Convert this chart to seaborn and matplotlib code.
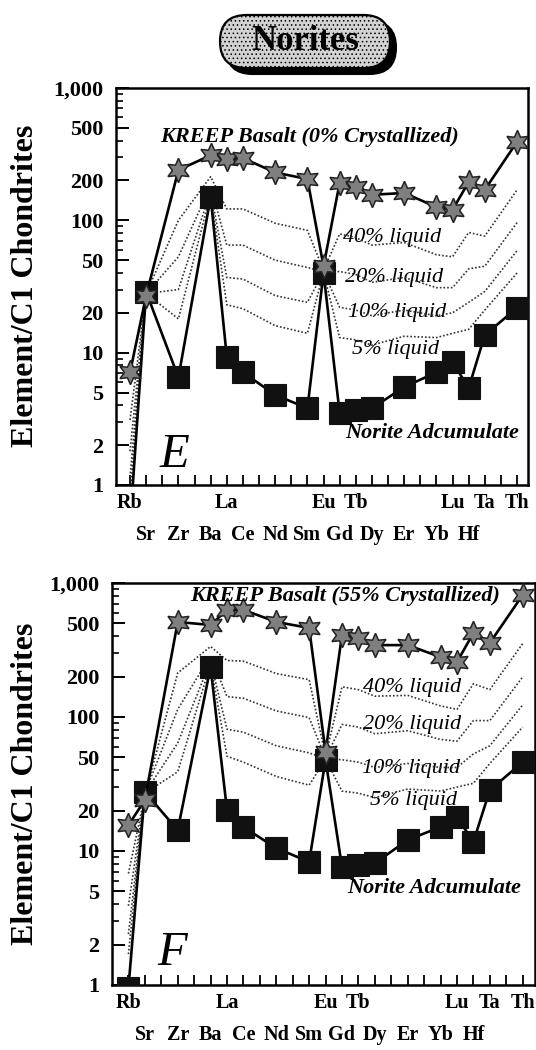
import numpy as np
import pandas as pd
import matplotlib
matplotlib.use("Agg")
import matplotlib.pyplot as plt
import matplotlib.transforms as mtransforms
from matplotlib.patches import FancyBboxPatch
from matplotlib.ticker import NullFormatter, LogLocator
import seaborn as sns

# ---------------- data ----------------
elements = ['Rb', 'Sr', 'Zr', 'Ba', 'La', 'Ce', 'Nd', 'Sm', 'Eu',
            'Gd', 'Tb', 'Dy', 'Er', 'Yb', 'Lu', 'Hf', 'Ta', 'Th']
element_pos = [1, 2, 4, 6, 7, 8, 10, 12, 13, 14, 15, 16, 18, 20, 21, 22, 23, 25]
top_row = ['Rb', 'La', 'Eu', 'Tb', 'Lu', 'Ta', 'Th']

# Panel E : KREEP basalt 0 % crystallized
kreep_0 = [7.1, 27, 240, 310, 290, 295, 230, 205, 45, 192, 179, 156, 161, 126, 120, 195, 170, 392]
cumulate_e = [0.5, 28.8, 6.5, 150, 9.3, 7.1, 4.8, 3.8, 40, 3.5, 3.7, 3.8, 5.5, 7.1, 8.5, 5.4, 13.6, 21.8]
liq40_e = [3.1, 28, 100, 214, 122, 122, 95, 84, 42, 79, 74, 65, 68, 55, 53, 81, 76, 170]
liq20_e = [1.8, 28, 53, 182, 65, 65, 50, 44, 41, 41, 39, 34, 37, 31, 31, 43, 45, 96]
liq10_e = [1.15, 28, 30, 166, 37, 36, 27, 24, 40.5, 22, 21, 19, 21, 19, 20, 24, 29, 59]
liq5_e = [0.83, 28, 18, 158, 23, 21.5, 16, 14, 40.3, 13, 12.5, 11.4, 13.3, 13, 14, 15, 21, 40]

# Panel F : KREEP basalt 55 % crystallized
kreep_55 = [15.6, 24, 512, 486, 630, 630, 512, 462, 55, 409, 388, 344, 344, 280, 257, 424, 357, 813]
cumulate_f = [0.95, 27.6, 14.3, 236, 20.2, 15.1, 10.5, 8.3, 48, 7.6, 7.9, 8.1, 12.1, 15.1, 17.9, 11.7, 28.5, 46]
liq40_f = [6.8, 26, 213, 336, 264, 261, 211, 190, 51, 168, 160, 143, 145, 121, 114, 177, 160, 353]
liq20_f = [3.9, 27, 114, 286, 142, 138, 111, 99, 49.4, 88, 84, 75, 79, 68, 66, 94, 94, 199]
liq10_f = [2.4, 27, 64, 261, 81, 77, 61, 54, 48.7, 48, 46, 42, 45, 42, 42, 53, 61, 123]
liq5_f = [1.7, 27, 39, 249, 51, 46, 36, 31, 48.4, 28, 27, 25, 29, 28, 30, 32, 45, 84]

ytick_vals = [1, 2, 5, 10, 20, 50, 100, 200, 500, 1000]
ytick_labels = ['1', '2', '5', '10', '20', '50', '100', '200', '500', '1,000']
liquid_labels = ['40% liquid', '20% liquid', '10% liquid', '5% liquid']

# ---------------- style ----------------
sns.set_style("ticks")
plt.rcParams['font.family'] = ['Liberation Serif', 'DejaVu Serif']
plt.rcParams['hatch.color'] = '#7a7a7a'
plt.rcParams['hatch.linewidth'] = 0.6
for key in ('text.color', 'axes.labelcolor', 'xtick.color', 'ytick.color', 'axes.edgecolor'):
    plt.rcParams[key] = 'black'

W, H = 536, 1050
fig = plt.figure(figsize=(W / 100, H / 100), dpi=100)


def px_axes(l, t, r, b):
    return fig.add_axes([l / W, 1 - b / H, (r - l) / W, (b - t) / H])


def draw_panel(ax, xlim, kreep, cum, liquids, kreep_label, letter, ann):
    ax.set_yscale('log')
    for vals in liquids:
        sns.lineplot(x=element_pos, y=vals, ax=ax, color='#333333', lw=1.2,
                     linestyle=(0, (1, 1.2)), sort=False, zorder=2)
    sns.lineplot(x=element_pos, y=cum, ax=ax, color='black', lw=1.9,
                 marker='s', markersize=16, markerfacecolor='#111111',
                 markeredgecolor='#111111', markeredgewidth=0.8,
                 sort=False, zorder=3)
    sns.lineplot(x=element_pos, y=kreep, ax=ax, color='black', lw=1.9,
                 marker=(6, 1, 0), markersize=17.5, markerfacecolor='#7f7f7f',
                 markeredgecolor='#222222', markeredgewidth=1.1,
                 sort=False, zorder=4)
    ax.set_xlim(*xlim)
    ax.set_ylim(1, 1000)
    ax.set_xlabel('')
    ax.set_ylabel('')

    # y axis
    ax.set_yticks(ytick_vals, labels=ytick_labels)
    ax.yaxis.set_minor_locator(LogLocator(base=10, subs=(3, 4, 6, 7, 8, 9), numticks=30))
    ax.yaxis.set_minor_formatter(NullFormatter())
    ax.tick_params(axis='y', which='major', direction='in', length=9, width=1.4,
                   labelsize=16, pad=9, right=False)
    ax.tick_params(axis='y', which='minor', direction='in', length=5, width=1.2, right=False)

    # x axis: top-row labels on major ticks, bottom-row labels on minor ticks
    labelled_top = [p for p, e in zip(element_pos, elements) if e in top_row]
    unlabelled = [p for p in range(1, 26) if p not in element_pos]
    major_pos = sorted(labelled_top + unlabelled)
    major_lab = [elements[element_pos.index(p)] if p in labelled_top else '' for p in major_pos]
    bottom_pos = [p for p, e in zip(element_pos, elements) if e not in top_row]
    bottom_lab = [e for e in elements if e not in top_row]
    ax.set_xticks(major_pos, labels=major_lab)
    ax.set_xticks(bottom_pos, labels=bottom_lab, minor=True)
    ax.tick_params(axis='x', which='both', direction='in', length=7, width=1.3,
                   labelsize=14.5, top=False)
    ax.tick_params(axis='x', which='major', pad=6)
    ax.tick_params(axis='x', which='minor', pad=29)
    for lab in ax.get_xticklabels(which='both') + ax.get_yticklabels():
        lab.set_fontweight('bold')

    for sp in ax.spines.values():
        sp.set_linewidth(1.8)
        sp.set_color('black')

    # annotations
    (kx, ky), liq_pos, (nx, ny), (lx, ly) = ann
    ax.text(kx, ky, kreep_label, ha='center', va='center', fontsize=16,
            fontweight='bold', fontstyle='italic', zorder=5)
    for (tx, ty), txt in zip(liq_pos, liquid_labels):
        ax.text(tx, ty, txt, ha='left', va='center', fontsize=16,
                fontstyle='italic', zorder=1)
    ax.text(nx, ny, 'Norite Adcumulate', ha='left', va='center', fontsize=16,
            fontweight='bold', fontstyle='italic', zorder=5)
    ax.text(lx, ly, letter, ha='left', va='baseline', fontsize=35,
            fontstyle='italic', zorder=5)


ax_e = px_axes(116, 88, 528, 485)
ax_f = px_axes(112, 583, 535, 985)

draw_panel(ax_e, (0.13, 25.68), kreep_0, cumulate_e,
           [liq40_e, liq20_e, liq10_e, liq5_e],
           'KREEP Basalt (0% Crystallized)', 'E',
           ((12.16, 427),
            [(14.2, 73.6), (14.33, 37.3), (14.52, 20.0), (14.77, 10.5)],
            (14.33, 2.47), (2.86, 1.37)))

draw_panel(ax_f, (0.0, 25.75), kreep_55, cumulate_f,
           [liq40_f, liq20_f, liq10_f, liq5_f],
           'KREEP Basalt (55% Crystallized)', 'F',
           ((14.18, 800),
            [(15.28, 165), (15.28, 87.2), (15.22, 41.6), (15.7, 24.0)],
            (14.3, 5.3), (2.74, 1.41)))

# y labels
for cy in (286, 784):
    fig.text(26 / W, 1 - cy / H, 'Element/C1 Chondrites', rotation=90,
             ha='center', va='center', fontsize=23, fontweight='bold')

# title pill with drop shadow
ident = mtransforms.IdentityTransform()
shadow = FancyBboxPatch((226, H - 74), 170, 53,
                        boxstyle='round,pad=0,rounding_size=26.5',
                        transform=ident, facecolor='black', edgecolor='black', lw=1.5)
pill = FancyBboxPatch((220, H - 68), 170, 53,
                      boxstyle='round,pad=0,rounding_size=26.5',
                      transform=ident, facecolor='#d2d2d2', edgecolor='black',
                      lw=1.6, hatch='....')
fig.add_artist(shadow)
fig.add_artist(pill)
fig.text(305 / W, 1 - 42 / H, 'Norites', ha='center', va='center',
         fontsize=25, fontweight='bold')

fig.savefig('out.png', dpi=100)
